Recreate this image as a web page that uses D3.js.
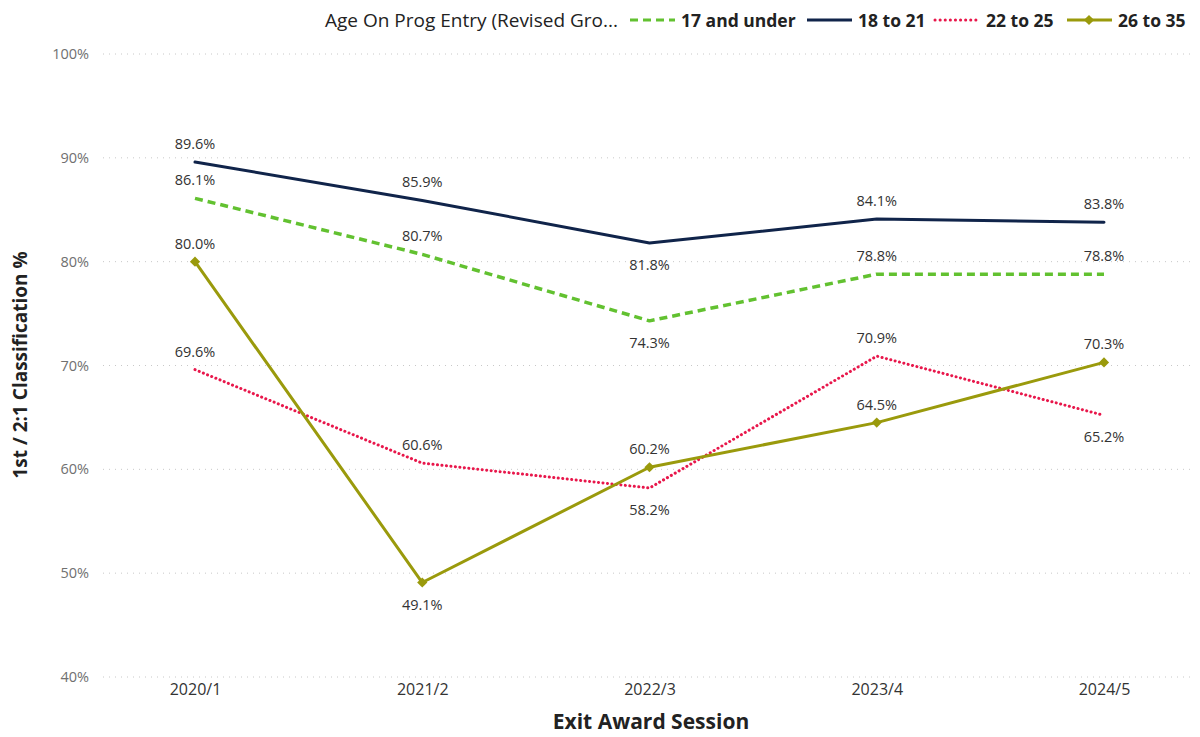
<!DOCTYPE html>
<html>
<head>
<meta charset="utf-8">
<script src="https://cdn.jsdelivr.net/npm/d3@7"></script>
<style>
  body { margin: 0; background: #fff; }
  svg text { font-family: "Open Sans", "Noto Sans", sans-serif; }
</style>
</head>
<body>
<div id="chart"></div>
<script>
// Data.
const sessions = ["2020/1", "2021/2", "2022/3", "2023/4", "2024/5"];
const seriesNames = ["17 and under", "18 to 21", "22 to 25", "26 to 35"];
const under17 = [86.1, 80.7, 74.3, 78.8, 78.8];
const age18to21 = [89.6, 85.9, 81.8, 84.1, 83.8];
const age22to25 = [69.6, 60.6, 58.2, 70.9, 65.2];
const age26to35 = [80.0, 49.1, 60.2, 64.5, 70.3];
const yTicks = [40, 50, 60, 70, 80, 90, 100];
// label side per point: -1 above, 1 below
const labelSide = [
    [-1, -1, 1, -1, -1],
    [-1, -1, 1, -1, -1],
    [-1, -1, 1, -1, 1],
    [-1, 1, -1, -1, -1]
];

const w = 1200;
const h = 737;

//Styles for each series.
const styles = [
    { color: "#62C130", dash: "8 5", cap: "butt", marker: false },
    { color: "#10244A", dash: null, cap: "round", marker: false },
    { color: "#E8174B", dash: "0.1 4.4", cap: "round", marker: false },
    { color: "#9A9A0C", dash: null, cap: "round", marker: true }
];

const allSeries = [under17, age18to21, age22to25, age26to35];

const svg = d3.select("#chart")
    .append("svg")
    .attr("width", w)
    .attr("height", h);

let xScale = d3.scalePoint()
    .domain(sessions)
    .range([195, 1104]);

let yScale = d3.scaleLinear()
    .domain([40, 100])
    .range([677, 54]);

//Dotted gridlines.
svg.append("g")
    .selectAll("line")
    .data(yTicks)
    .enter()
    .append("line")
    .attr("x1", 103)
    .attr("x2", 1194)
    .attr("y1", d => yScale(d))
    .attr("y2", d => yScale(d))
    .attr("stroke", "#C8C8C8")
    .attr("stroke-width", 1)
    .attr("stroke-dasharray", "1 5");

//Y axis labels.
const yAxis = d3.axisLeft(yScale)
    .tickValues(yTicks)
    .tickFormat(d => d + "%")
    .tickSize(0)
    .tickPadding(0);

const yG = svg.append("g")
    .attr("transform", "translate(89,0)")
    .call(yAxis);
yG.select(".domain").remove();
yG.selectAll("text")
    .attr("fill", "#707070")
    .attr("font-size", 14.5);

//X axis labels.
const xAxis = d3.axisBottom(xScale).tickSize(0).tickPadding(0);
const xG = svg.append("g")
    .attr("transform", "translate(0,684)")
    .call(xAxis);
xG.select(".domain").remove();
xG.selectAll("text")
    .attr("fill", "#333")
    .attr("font-size", 16);

//Axis titles.
svg.append("text")
    .attr("x", 651)
    .attr("y", 729)
    .attr("text-anchor", "middle")
    .attr("font-size", 21)
    .attr("font-weight", "bold")
    .attr("fill", "#222")
    .text("Exit Award Session");

svg.append("text")
    .attr("transform", "translate(27,365) rotate(-90)")
    .attr("text-anchor", "middle")
    .attr("font-size", 19)
    .attr("font-weight", "bold")
    .attr("fill", "#222")
    .text("1st / 2:1 Classification %");

const line = d3.line()
    .x((d, i) => xScale(sessions[i]))
    .y(d => yScale(d));

const diamond = d3.symbol().type(d3.symbolSquare).size(52);

allSeries.forEach((values, s) => {
    const st = styles[s];
    svg.append("path")
        .datum(values)
        .attr("d", line)
        .attr("fill", "none")
        .attr("stroke", st.color)
        .attr("stroke-width", s === 0 ? 3.5 : 3)
        .attr("stroke-linecap", st.cap)
        .attr("stroke-linejoin", "round")
        .attr("stroke-dasharray", st.dash);

    if (st.marker) {
        svg.append("g")
            .selectAll("path")
            .data(values)
            .enter()
            .append("path")
            .attr("d", diamond)
            .attr("transform", (d, i) => "translate(" + xScale(sessions[i]) + "," + yScale(d) + ") rotate(45)")
            .attr("fill", st.color);
    }
});

//Data labels.
allSeries.forEach((values, s) => {
    svg.append("g")
        .selectAll("text")
        .data(values)
        .enter()
        .append("text")
        .attr("x", (d, i) => xScale(sessions[i]))
        .attr("y", (d, i) => yScale(d) + (labelSide[s][i] < 0 ? -13 : 27))
        .attr("text-anchor", "middle")
        .attr("font-size", 14.5)
        .attr("fill", "#333")
        .text(d => d.toFixed(1) + "%");
});

//Legend.
const legend = svg.append("g").attr("transform", "translate(0,20)");
legend.append("text")
    .attr("x", 325)
    .attr("y", 6.5)
    .attr("font-size", 19)
    .attr("fill", "#222")
    .text("Age On Prog Entry (Revised Gro...");

const legendX = [630, 807, 935, 1067];
seriesNames.forEach((name, s) => {
    const st = styles[s];
    const x0 = legendX[s];
    legend.append("line")
        .attr("x1", x0)
        .attr("x2", x0 + 45)
        .attr("y1", 0)
        .attr("y2", 0)
        .attr("stroke", st.color)
        .attr("stroke-width", 3)
        .attr("stroke-linecap", s === 2 ? "round" : "butt")
        .attr("stroke-dasharray", s === 0 ? "8 5" : (s === 2 ? "0.1 5" : null));
    if (st.marker) {
        legend.append("path")
            .attr("d", diamond)
            .attr("transform", "translate(" + (x0 + 22) + ",0) rotate(45)")
            .attr("fill", st.color);
    }
    legend.append("text")
        .attr("x", x0 + 51)
        .attr("y", 6.5)
        .attr("font-size", 17.5)
        .attr("font-weight", "bold")
        .attr("fill", "#222")
        .text(name);
});
</script>
</body>
</html>
